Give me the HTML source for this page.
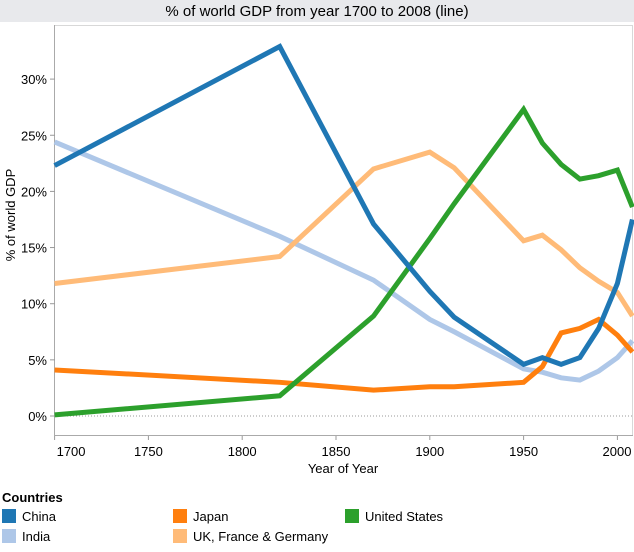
<!DOCTYPE html>
<html><head><meta charset="utf-8"><style>
body{margin:0;width:634px;height:547px;background:#fff;font-family:"Liberation Sans",sans-serif;overflow:hidden}
</style></head><body>
<svg width="634" height="547" xmlns="http://www.w3.org/2000/svg" font-family="Liberation Sans, sans-serif">
<rect x="0" y="0" width="634" height="22" fill="#e8e9ec"/>
<text x="317" y="16" text-anchor="middle" font-size="15" fill="#000">% of world GDP from year 1700 to 2008 (line)</text>
<rect x="54.5" y="25.5" width="578" height="410" fill="none" stroke="#d8d8d8"/>
<line x1="54.5" y1="25" x2="54.5" y2="436" stroke="#aaa"/>
<line x1="54" y1="435.5" x2="633" y2="435.5" stroke="#aaa"/>
<line x1="55" y1="416" x2="632" y2="416" stroke="#999" stroke-dasharray="1,2"/>
<g id="axes"></g>
<g id="lines"></g>
<text transform="translate(15,215) rotate(-90)" text-anchor="middle" font-size="13">% of world GDP</text>
<text x="343" y="473" text-anchor="middle" font-size="13">Year of Year</text>
<text x="2" y="502" font-size="13" font-weight="bold">Countries</text>
<g id="legend"></g>
</svg>
<script>
const years=[1700,1820,1870,1900,1913,1950,1960,1970,1980,1990,2000,2008];
const seriesNames=["China","India","Japan","UK, France & Germany","United States"];
const china=[22.3,32.9,17.1,11.1,8.8,4.6,5.2,4.6,5.2,7.8,11.8,17.5];
const india=[24.4,16.0,12.1,8.6,7.5,4.2,3.9,3.4,3.2,4.0,5.2,6.7];
const japan=[4.1,3.0,2.3,2.6,2.6,3.0,4.4,7.4,7.8,8.6,7.2,5.7];
const ukfg=[11.8,14.2,22.0,23.5,22.1,15.6,16.1,14.8,13.2,12.0,11.0,8.9];
const us=[0.1,1.8,8.9,15.8,18.9,27.3,24.3,22.4,21.1,21.4,21.9,18.6];
const xTicks=[1700,1750,1800,1850,1900,1950,2000];
const yTicks=[0,5,10,15,20,25,30];
const NS="http://www.w3.org/2000/svg";
function xs(y){return 54.6+(y-1700)*1.876;}
function ys(v){return 416-v*11.23;}
const axes=document.getElementById('axes');
xTicks.forEach((t,i)=>{
 const l=document.createElementNS(NS,'line');
 l.setAttribute('x1',xs(t));l.setAttribute('x2',xs(t));l.setAttribute('y1',436);l.setAttribute('y2',440);l.setAttribute('stroke','#999');
 
 
 axes.appendChild(l);
 const tx=document.createElementNS(NS,'text');
 if(i===0){tx.setAttribute('x',xs(t)+2);tx.setAttribute('text-anchor','start');}
 else{tx.setAttribute('x',Math.min(xs(t),617));tx.setAttribute('text-anchor','middle');}
 tx.setAttribute('y',456);tx.setAttribute('font-size','13');
 tx.textContent=t;
 
 
 axes.appendChild(tx);
});
yTicks.forEach(t=>{
 const l=document.createElementNS(NS,'line');
 l.setAttribute('x1',50);l.setAttribute('x2',55);l.setAttribute('y1',ys(t));l.setAttribute('y2',ys(t));l.setAttribute('stroke','#999');
 
 
 axes.appendChild(l);
 const tx=document.createElementNS(NS,'text');
 tx.setAttribute('x',47);tx.setAttribute('y',ys(t)+5);tx.setAttribute('text-anchor','end');tx.setAttribute('font-size','13');
 tx.textContent=t+'%';
 
 
 axes.appendChild(tx);
});
const data=[india,ukfg,japan,us,china];
const colors=["#aec7e8","#ffbb78","#ff7f0e","#2ca02c","#1f77b4"];
const names=["india-line","ukfg-line","japan-line","us-line","china-line"];
const lines=document.getElementById('lines');
data.forEach((s,i)=>{
 const p=document.createElementNS(NS,'polyline');
 p.setAttribute('points',s.map((v,j)=>xs(years[j])+','+ys(v)).join(' '));
 p.setAttribute('fill','none');p.setAttribute('stroke',colors[i]);p.setAttribute('stroke-width','5');p.setAttribute('stroke-linejoin','miter');
 
 
 lines.appendChild(p);
});
const leg=document.getElementById('legend');
const legColors=["#1f77b4","#aec7e8","#ff7f0e","#ffbb78","#2ca02c"];
const legPos=[[2,509],[2,529],[173,509],[173,529],[345,509]];
seriesNames.forEach((n,i)=>{
 const g=document.createElementNS(NS,'g');
 
 
 const r=document.createElementNS(NS,'rect');
 r.setAttribute('x',legPos[i][0]);r.setAttribute('y',legPos[i][1]);r.setAttribute('width',14);r.setAttribute('height',14);r.setAttribute('fill',legColors[i]);
 g.appendChild(r);
 const t=document.createElementNS(NS,'text');
 t.setAttribute('x',legPos[i][0]+20);t.setAttribute('y',legPos[i][1]+12);t.setAttribute('font-size','13');
 t.textContent=n;
 g.appendChild(t);
 leg.appendChild(g);
});
</script>
</body></html>
